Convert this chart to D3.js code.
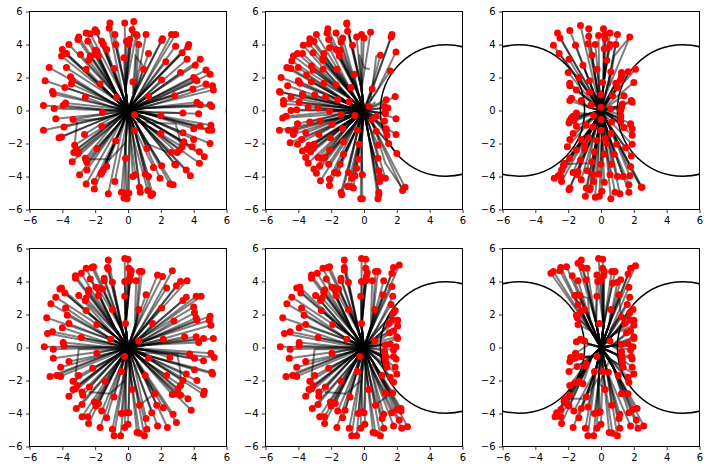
<!DOCTYPE html>
<html><head><meta charset="utf-8">
<script src="https://cdn.jsdelivr.net/npm/d3@7"></script>
<style>html,body{margin:0;padding:0;background:#fff}svg{display:block}</style></head>
<body><script>
const tickValues=[-6,-4,-2,0,2,4,6];
const pointsA=[[-1.1,5.3],[-1.15,5],[-0.2,5.3],[0.35,5.4],[0.25,4.9],[0.5,4.6],[0.55,4.55],[1.1,4.6],[-0.8,4.6],[-2,4.9],[-1.9,4.75],[-2.3,4.65],[-2.55,4.7],[-2.45,4.2],[-3,4.45],[-3.05,4.3],[-3.6,4],[-1.6,4.2],[-1.5,4],[-0.75,4],[-0.1,4.2],[0.1,4.3],[0.05,4],[0.65,4],[-1.3,3.7],[-2,3.65],[-1.9,3.6],[-2.05,3.4],[-2.3,3.3],[-2.9,3.4],[-1.8,3.3],[-2.4,3.05],[-4,3.7],[-3.85,3.45],[-3.75,3.45],[-4.05,3.3],[-0.25,3.2],[1.25,3.45],[2.05,4.25],[2.1,4.35],[2.65,4.6],[2.9,4.6],[2.9,3.9],[3.3,3.5],[3.65,3.85],[3.7,4],[3.6,3.1],[4.4,3.1],[4.1,2.75],[2.3,2.95],[4.75,2.45],[5,2.2],[3.2,2.3],[4,2],[4.1,1.9],[4.2,1.8],[4.75,1.6],[5.15,1.5],[5.2,1.25],[3.95,1.3],[2.05,1.85],[0.95,2.5],[0.3,1.75],[-0.85,2.55],[-2.55,2.5],[-3.75,2.6],[-4.8,2.6],[-5.05,1.8],[-3.5,2.05],[-3.4,1.85],[-3.45,1.6],[-3.85,1.4],[-4.6,1.15],[-4.55,1],[-1.7,1.6],[-2.6,0.8],[-0.7,0.8],[1.25,0.85],[2.85,0.9],[-3.8,0.45],[-3.95,0.3],[-5.15,0.3],[-4.5,0.12],[-1.55,-0.12],[-3.35,-0.55],[-4.4,-0.5],[-3.9,-1],[-5.15,-1.2],[-1.6,-0.95],[-2.65,-1.45],[-4.2,-1.65],[-4.05,-1.6],[-3.25,-2.1],[-3.15,-2.35],[-3.3,-2.55],[-3.05,-2.6],[-3,-2.5],[-2.6,-2.9],[-2.55,-3],[-2.5,-3.15],[-3.4,-3.1],[-1.9,-2.3],[-0.75,-1.85],[-0.15,-2.9],[-1.3,-3.4],[-1.5,-3.6],[-1.6,-3.75],[-1.65,-3.85],[-2.5,-3.6],[-2.95,-3.9],[-2.55,-4.45],[-2.05,-4.3],[-2.05,-4.75],[-0.8,-4.3],[-1.2,-5.05],[-0.4,-4.95],[-0.1,-5],[0.05,-5],[-0.25,-5.3],[-0.05,-5.35],[0.3,-4],[0.45,-3.9],[0.7,-4.65],[0.75,-4.95],[1.05,-3.85],[1.25,-4],[1.2,-4.85],[1.4,-5.15],[1.5,-5.05],[1.95,-4.1],[1.55,-3.45],[2.05,-3.35],[2.55,-4.45],[2.75,-4.5],[2.9,-3.3],[2.85,-3.25],[3.55,-3.6],[3.8,-3.95],[4.35,-3.2],[4.65,-2.8],[4.35,-2.5],[3.9,-2.2],[3.4,-1.9],[3.3,-2.2],[3.15,-2.4],[3,-2.55],[2.65,-2.55],[4,-1.75],[1.15,-2.3],[2,-1.4],[3.35,-1.35],[4,-1.1],[4.4,-0.95],[5.05,-0.9],[4.9,-1.2],[5.1,-1.2],[4.3,-0.2],[3.35,-0.15],[2,-0.3],[0.4,-0.25],[0.4,-1.2],[5,-2],[4.2,0.5],[4.4,0.35],[5,0.35],[5.1,0.25]];
const pointsB=[[-1.05,5.3],[-1.05,5.25],[-1,4.8],[-2.2,4.95],[-2.25,4.7],[-1.7,4.7],[-2.15,4.3],[-2.9,4.6],[-3.3,4.35],[-3.05,4.2],[-3.35,4.05],[-3.7,3.95],[-1.3,4.4],[-1.4,4.15],[-0.7,3.95],[-0.45,4.45],[-0.15,4.6],[0,4.4],[0.4,4.75],[1.7,4.6],[1.65,4.45],[1,3.35],[1.95,3.55],[1.6,2.4],[-0.6,2.2],[0.5,1.3],[-0.8,1.4],[1.35,0.65],[1.9,0.85],[-2.1,3.8],[-1.7,3.7],[-1.45,3.65],[-1.5,3.3],[-3.1,3.5],[-3.75,3.45],[-4.05,3.45],[-4.3,3.3],[-4.4,3],[-2.45,3.45],[-2.5,3.15],[-2.5,3.05],[-4.7,2.6],[-4.45,2.55],[-4,2.6],[-3.2,2.7],[-3.1,2.45],[-3.5,2.15],[-2.5,2.5],[-1.65,2.5],[-5.05,2],[-4,1.8],[-3.9,1.65],[-3.2,1.75],[-4.65,1.5],[-2.45,1.65],[-1.7,1.55],[-5.15,1.15],[-5.1,1.1],[-3.75,1],[-3.75,0.9],[-3,0.95],[-4.45,0.8],[-2.35,0.8],[-1.6,0.65],[-0.9,0.55],[-4.9,0.6],[-4.9,0.4],[-3.95,0.5],[-3.4,0.2],[-2.8,0.15],[-4.45,0],[-4.1,0.05],[-2.1,-0.05],[-1.4,-0.25],[-0.55,-0.3],[0.3,0.25],[-4.75,-0.35],[-4.95,-0.45],[-3.3,-0.7],[-2.65,-0.65],[-4.05,-0.8],[-1.95,-0.85],[-5.15,-1.2],[-4.6,-1.2],[-4.2,-1.2],[-4.3,-1.45],[-3.55,-1.35],[-1.3,-1.1],[-0.4,-1.2],[-2.75,-1.45],[-2.05,-1.65],[-4.5,-1.95],[-4.05,-2.05],[-3.8,-1.75],[-3.05,-2.05],[-3.35,-2.1],[-3.1,-2.3],[-3.75,-2.45],[-3.5,-2.35],[-3.25,-2.5],[-2.1,-2.4],[-1.25,-1.9],[-0.3,-2.05],[-3.55,-2.85],[-3.4,-3.2],[-2.8,-2.85],[-2.6,-2.9],[-2.4,-2.85],[-2.7,-3.35],[-2.15,-3.25],[-3.05,-3.55],[-2.9,-3.8],[-2.65,-4.25],[-2.1,-4.15],[-2.1,-4.55],[-1.8,-3.75],[-1.6,-3.8],[-1.45,-3.25],[-1.25,-2.65],[-0.35,-2.95],[-0.45,-3.5],[-0.95,-3.75],[-0.75,-4.1],[-0.55,-3.95],[-0.1,-3.9],[-1,-4.6],[-0.8,-4.6],[-0.65,-4.7],[-1.4,-4.95],[-1.35,-5.1],[-0.2,-5.35],[-0.1,-5.35],[0.9,-4.95],[0.9,-5.1],[0.85,-5.35],[0.95,-4.3],[0.9,-3.65],[1,-4],[1.3,-4.1],[0.85,-2.9],[0.85,-2.1],[0.75,-1.25],[1.5,-2],[2,-2.6],[1.4,-1.5],[1.95,-1.45],[1.35,-1.1],[1.35,-1.25],[1.25,-0.65],[1.95,-0.5],[1.3,-0.2],[1.45,0.15],[1.25,0.25],[1.3,0],[0.75,-0.35],[0.5,-0.55],[2.35,-4.85],[2.5,-4.65]];
const pointsC=[[-1.25,5.15],[-0.75,4.95],[0.15,4.95],[-1.9,4.85],[-2.65,4.7],[-2.5,4.4],[-0.75,4.5],[-0.15,4.55],[0.25,4.6],[0.55,4.7],[1,4.6],[1.75,4.45],[0.25,4.35],[-2.9,3.95],[-1.55,3.95],[-0.8,4.05],[-0.35,4],[0.55,4],[0.9,4],[0.2,3.75],[0.5,3.85],[-2.55,3.45],[-0.55,3.35],[-1.95,3.1],[0.35,3.05],[-1.1,2.75],[-2,2.3],[-0.25,2.5],[0.6,2.35],[1.25,2.3],[1.65,2.35],[2.1,2.5],[-1.35,2],[-0.7,1.8],[1.25,2.1],[1.2,1.85],[2,1.7],[0.1,1.7],[0.9,1.65],[-1.9,1.65],[-1.9,1.5],[1,1.4],[-1.5,1.25],[-0.7,1.1],[0,0.95],[0.7,0.9],[1.4,0.9],[-1.8,0.75],[-1.9,0.6],[-1.2,0.6],[1.85,0.6],[1.9,0.5],[-0.6,0.35],[1.3,0.4],[1.25,0.2],[0,0.2],[0.6,0.1],[1.2,0],[-1.5,-0.15],[-1.7,-0.35],[-1.8,-0.45],[-0.45,-0.3],[1.2,-0.3],[1.2,-0.4],[-1.9,-0.6],[-1.95,-0.75],[-1.65,-0.6],[0,-0.55],[0.65,-0.7],[1.2,-0.65],[1.8,-0.8],[-1.5,-0.95],[-0.9,-0.9],[-0.5,-1],[1.9,-1.1],[1.4,-1.05],[0,-1.2],[0.6,-1.4],[-1.7,-1.4],[-0.75,-1.65],[1.9,-1.5],[-1.9,-1.75],[-1.2,-1.75],[-0.25,-1.8],[0.25,-1.7],[0.35,-2],[0.95,-2.05],[1.9,-2.05],[-2.05,-2.2],[-1,-2.1],[-1,-2.35],[1.5,-2.25],[-1.5,-2.4],[-0.4,-2.5],[0.2,-2.65],[0.8,-2.65],[1.85,-2.75],[-1.9,-2.9],[-1.25,-3],[-0.55,-3.1],[-2.25,-3.2],[-2.3,-3.35],[0,-3.25],[0.65,-3.25],[1.8,-3.4],[-2.4,-3.6],[-1.7,-3.75],[-1.4,-3.7],[-0.85,-3.65],[-1.45,-3.9],[-2.45,-4],[-2.85,-4.1],[-2.6,-3.95],[-1.2,-4.2],[-2.4,-4.3],[-0.5,-3.9],[-0.15,-3.85],[0.55,-3.9],[1,-4],[1.35,-4],[1.75,-3.95],[-0.45,-4.3],[0.2,-4.35],[1.7,-4.5],[-1.9,-4.7],[-1.95,-4.8],[-0.9,-4.7],[-0.7,-4.8],[-0.65,-4.7],[0.05,-4.9],[0.85,-4.95],[1.15,-5.05],[1.7,-4.95],[-0.95,-5.2],[-0.35,-5.25],[-0.1,-5.2],[0.6,-5.35],[2.45,-4.65],[2.5,-4.65]];
const pointsD=[[-0.2,5.4],[0,5.35],[-1.2,5.3],[-1.25,4.85],[-1.2,4.75],[-2.1,4.9],[-2.2,4.85],[-2.55,4.8],[-2.85,4.5],[-3.2,4.35],[-3.2,4.2],[-2.3,4.15],[-1.45,4.2],[-1.45,4.05],[-0.95,3.95],[0.05,4.8],[0.2,4.65],[0.15,4.4],[0.7,4.6],[0.85,4.6],[0.1,4.2],[-0.2,4],[0.1,4.05],[0.5,4.05],[1.8,4.4],[2.1,4.3],[2.7,4.65],[3.2,4],[2.95,3.75],[3.6,4.05],[2.35,3.6],[1.1,3.2],[-0.2,3.1],[-4.05,3.6],[-4.15,3.55],[-3.85,3.3],[-4.4,3.05],[-3,3.15],[-1.95,3.65],[-1.8,3.6],[-1.55,3.55],[-2.4,3.5],[-2.4,3.35],[-1.8,3.15],[-2.55,3],[-2.6,2.85],[-4.7,2.65],[-3.8,2.4],[-2.55,2.25],[-0.95,2.3],[0.65,2.3],[2.05,2.4],[3.35,2.85],[3.55,3.05],[4.15,3.1],[4.45,3.1],[4,2.45],[4.05,2.1],[4.15,1.8],[4.2,1.65],[5,1.9],[4.95,1.65],[5.05,1.35],[-4.95,1.8],[-3.7,1.95],[-3.6,1.45],[-4,1.2],[-1.9,1.4],[-0.15,1.45],[1.5,1.45],[2.8,1.6],[-4.6,0.95],[-4.9,0.85],[-2.85,0.6],[-1.05,0.5],[0.65,0.4],[2.15,0.5],[3.45,0.65],[4.15,0.65],[4.3,0.3],[4.6,0.55],[5.2,0.55],[-3.95,0.3],[-3.9,0.1],[-5.1,0.05],[-4.55,-0.1],[-4.55,-0.65],[-1.9,-0.35],[-0.2,-0.55],[-3.6,-0.85],[1.25,-0.65],[2.55,-0.6],[3.75,-0.4],[4.05,-0.65],[4.6,-0.8],[5.05,-0.35],[5.25,-0.6],[-4.1,-1.2],[-2.15,-1.25],[4.05,-1.35],[-0.4,-1.45],[3.55,-1.6],[5.1,-1.5],[5.15,-1.6],[-4.75,-1.75],[-4.35,-1.7],[-4.1,-1.75],[-3,-1.7],[1.05,-1.7],[2.35,-1.7],[4.2,-2],[-3.35,-2.05],[-1.4,-2.05],[3.35,-2],[-3.1,-2.3],[-2.35,-2.4],[-3.2,-2.5],[-3.35,-2.55],[0.25,-2.55],[3.2,-2.3],[3.05,-2.5],[-2.8,-2.7],[-2.75,-2.9],[-3.6,-2.95],[-0.85,-3],[1.65,-2.8],[2.7,-2.85],[2.95,-2.8],[3.2,-2.9],[3.65,-3.1],[4.65,-2.65],[4.6,-2.85],[-2.05,-3.3],[-1.8,-3.4],[-1.95,-3.55],[-2.8,-3.45],[-3.15,-3.7],[-1.6,-3.85],[0.7,-3.5],[1.75,-3.5],[2.15,-3.65],[3.85,-3.8],[-0.4,-4],[-0.1,-3.95],[0.05,-3.95],[1.45,-3.95],[-2.8,-4.2],[-2.45,-4.2],[-1.3,-4.25],[1.1,-4.3],[2.75,-4.05],[-2.4,-4.6],[2.95,-4.55],[-1.7,-4.85],[-0.95,-4.95],[0,-4.65],[-0.2,-4.85],[1.15,-4.95],[1.8,-4.75],[2.4,-4.85],[-0.85,-5.35],[-0.45,-5.35],[0.55,-5.15],[0.7,-5.2],[1,-5.35]];
const pointsE=[[-0.15,5.4],[0.1,5.35],[-1.2,5.3],[-1.2,4.85],[-1.2,4.7],[-2.1,4.9],[-2.2,4.85],[-2.5,4.8],[-2.85,4.5],[-3.2,4.4],[-3.2,4.2],[-2.3,4.15],[-1.4,4.2],[-1.4,4.05],[-0.95,3.95],[0.1,4.8],[0.2,4.55],[0.15,4.3],[0.7,4.6],[0.85,4.6],[-0.15,4],[0.1,4.05],[0.5,4.05],[2.15,5],[1.8,4.85],[1.7,4.5],[1.2,4.05],[1.7,3.7],[1.75,3.1],[1.15,3.2],[-0.2,3.1],[-4.1,3.6],[-3.9,3.65],[-3.85,3.3],[-4.4,3.05],[-2.95,3.15],[-1.95,3.65],[-1.8,3.6],[-1.55,3.55],[-2.4,3.5],[-2.45,3.35],[-1.7,3.15],[-2.55,3],[-2.65,2.85],[-4.7,2.65],[-3.8,2.4],[-2.6,2.25],[-0.95,2.3],[0.65,2.3],[1.65,2.6],[1.9,2.25],[1.8,2.1],[-4.95,1.8],[-3.65,1.95],[-3.55,1.4],[-3.95,1.2],[-1.9,1.4],[-0.15,1.45],[1.5,1.45],[1.75,1.7],[2.05,1.65],[2.05,1.3],[-4.5,0.95],[-4.85,0.85],[-2.8,0.6],[-1.05,0.5],[0.65,0.4],[1.55,0.9],[1.8,1],[1.3,0.15],[2,0.65],[2.05,0.55],[-3.95,0.3],[-3.95,0.1],[-5.1,0.05],[-4.5,-0.1],[-4.55,-0.65],[-1.95,-0.35],[-0.25,-0.55],[-3.55,-0.85],[1.6,0.2],[1.95,0.05],[1.8,-0.15],[1.25,-0.25],[1.3,-0.5],[1.3,-0.7],[1.8,-0.55],[1.95,-0.7],[1.35,-0.95],[1.4,-1.2],[1.9,-1.2],[2,-1.6],[-4.1,-1.2],[-2.15,-1.25],[-0.4,-1.45],[-4.75,-1.75],[-4.35,-1.7],[-4.1,-1.75],[-3,-1.7],[1.1,-1.7],[1.6,-1.8],[1.8,-2.1],[-3.3,-2.05],[-1.4,-2.05],[-3.1,-2.3],[-2.35,-2.4],[-3.2,-2.5],[-3.35,-2.55],[0.3,-2.55],[1.3,-2.75],[1.75,-2.75],[-2.75,-2.7],[-2.75,-2.95],[-3.55,-2.95],[-0.85,-3],[-2.05,-3.3],[-1.75,-3.4],[-2,-3.55],[-2.8,-3.45],[-3.15,-3.7],[-1.6,-3.85],[-1.15,-3.8],[0.7,-3.5],[2,-3.75],[2.25,-3.7],[2.25,-3.85],[1.7,-3.95],[-0.35,-4],[-0.1,-3.9],[0,-3.95],[1.2,-4.05],[-2.7,-4.2],[-2.4,-4.2],[-1.3,-4.25],[1.1,-4.3],[-2.4,-4.6],[2.15,-4.4],[-1.65,-4.85],[-0.9,-4.9],[0.05,-4.65],[-0.2,-4.9],[1.2,-4.9],[1.8,-4.75],[2.3,-4.9],[2.65,-4.8],[-0.75,-5.35],[-0.45,-5.35],[0.55,-5.15],[0.7,-5.2],[1,-5.35]];
const pointsF=[[-0.15,5.4],[0.1,5.35],[-1.2,5.3],[-1.4,5.1],[-1.15,4.85],[-0.85,4.8],[-2.1,4.9],[-2.45,4.85],[-2.5,4.65],[-2.9,4.6],[-3.05,4.5],[-1.75,4.35],[-1.4,4.05],[-0.9,4.1],[0.1,4.8],[0.2,4.6],[-0.25,4.4],[0.65,4.6],[0.85,4.6],[0.15,4.35],[-0.2,4],[0,4.1],[0.7,3.9],[1.2,4.1],[2.1,4.95],[1.8,4.8],[1.65,4.45],[1,3.95],[1.7,3.65],[1.75,3.05],[1.1,3.2],[-0.25,3.1],[-1.6,3.15],[-1.4,3.2],[-1.3,3.15],[-1.4,2.6],[0.6,2.3],[1.6,2.6],[1.95,2.3],[1.75,2.1],[-1.2,2.2],[-1,2.3],[-1.5,1.95],[-1.45,1.8],[-0.1,1.45],[1.25,1.85],[1.45,1.45],[1.75,1.7],[2,1.65],[2,1.35],[-1.4,1.4],[1.55,0.9],[1.8,1],[2,0.65],[2,0.55],[0.55,0.4],[-1.25,0.5],[-1.5,0.35],[-1,0.4],[1.25,0.2],[1.65,0.25],[1.95,0.05],[1.8,-0.15],[1.25,-0.25],[-1.55,-0.35],[-0.25,-0.55],[-1.85,-0.6],[-1.9,-0.85],[-1.6,-0.65],[-1.2,-0.55],[1.25,-0.5],[1.3,-0.7],[1.85,-0.55],[1.9,-0.7],[-0.9,-1],[-0.95,-1.1],[1.3,-0.95],[1.35,-1.2],[1.9,-1.2],[2,-1.6],[-1.95,-1.45],[-0.4,-1.45],[0.1,-1.45],[0.45,-1.5],[-1.45,-1.15],[1.05,-1.7],[1.65,-1.8],[1.7,-2.1],[-1.9,-2.3],[-1.6,-2.15],[-1.35,-2.05],[-1.1,-2.2],[0.25,-2.55],[1.25,-2.8],[1.65,-2.8],[-1.9,-2.9],[-0.9,-3],[-2.2,-3.1],[-2.25,-3.25],[-2.1,-3.4],[-1.95,-3.55],[-0.8,-3.6],[-1.2,-3.7],[0.65,-3.5],[1.95,-3.75],[2.2,-3.7],[1.7,-3.95],[-1.65,-3.85],[-2.45,-3.75],[-2.7,-3.95],[-2.8,-4.2],[-2.45,-4.2],[-1.35,-4.25],[-0.4,-4],[-0.15,-3.95],[-0.05,-3.9],[1.15,-4.05],[1.1,-4.3],[-2.4,-4.6],[2.15,-4.4],[-1.7,-4.85],[-0.95,-4.9],[0,-4.65],[-0.25,-4.9],[1.15,-4.9],[1.8,-4.75],[2.25,-4.9],[2.6,-4.75],[-0.8,-5.35],[-0.45,-5.35],[0.5,-5.15],[0.7,-5.2],[1,-5.35]];
const hubsWide=[[-0.15,1.3],[-0.3,0.9],[-0.45,1.25],[-0.55,0.75],[-0.75,1.1],[-0.8,0.7],[-1.1,0.95],[-1,0.5],[-1.3,0.55],[-1.1,0.25],[-1.4,0.2],[-0.9,0],[-1.3,-0.2],[-0.9,-0.3],[-1.2,-0.55],[-0.7,-0.5],[-0.9,-0.85],[-0.55,-0.8],[-0.7,-1.2],[-0.35,-0.9],[-0.45,-1.5],[-0.15,-1.1],[-0.15,-2],[0.1,-1.2],[0.3,-1.6],[0.35,-1],[0.6,-1.6],[0.55,-0.9],[0.9,-1.3],[0.8,-0.75],[1.2,-0.95],[0.9,-0.45],[1.4,-0.55],[1,-0.15],[1.5,-0.1],[1.1,0.15],[1.5,0.35],[0.9,0.35],[1.2,0.6],[0.7,0.5],[1,0.85],[0.55,0.7],[0.8,1.2],[0.4,1],[0.5,1.5]];
const hubsNarrow=[[-0.1,1.3],[-0.25,0.9],[-0.3,1.7],[-0.45,1.1],[-0.55,1.7],[-0.5,0.7],[-0.7,1.3],[-0.7,0.6],[-0.85,0.9],[-0.75,0.2],[-0.9,0.05],[-0.7,-0.2],[-0.95,-0.4],[-0.6,-0.5],[-0.85,-0.9],[-0.5,-0.9],[-0.7,-1.4],[-0.3,-1],[-0.45,-1.7],[-0.15,-1.2],[-0.15,-2],[0.05,-1.5],[0.25,-1.8],[0.3,-1.1],[0.5,-1.6],[0.5,-0.9],[0.75,-1.4],[0.7,-0.8],[0.9,-0.6],[0.7,-0.3],[1,-0.2],[0.75,0.1],[1,0.25],[0.7,0.45],[0.85,0.75],[0.5,0.7],[0.7,1.3],[0.35,1.1],[0.45,1.7],[0.15,1.6]];
const hubsTall=[[-0.95,2.2],[-0.75,1.9],[-0.6,1],[-0.7,0.2],[-0.55,-0.55],[-0.85,-0.9],[-0.3,-1.3],[-0.15,-2.1],[0.1,-1.2],[0.35,-1.4],[0.55,-0.7],[0.75,-1.2],[0.9,-0.4],[0.65,0.1],[1,0.2],[0.4,0.6],[0.75,0.8],[0.5,1.4],[0.15,1.3],[-0.3,1.5]];
const bendsA=[[[-0.2,-0.1],[-1.5,-0.5],[-3.1,-0.6],[-3.25,-2.1]],[[-0.1,-1.9],[-1.1,-2.95],[-2.6,-2.95]],[[0.45,-0.7],[2.9,-0.8],[3.1,-1.5],[3.2,-2.3]],[[0.3,1],[0.45,3.3],[0.85,2.8],[0.95,2.5]],[[0.4,-0.7],[1.1,-2],[2.6,-2.6]]];
const bendsB=[[[0.4,0.6],[0.75,3.3],[1.0,3.35]],[[-0.1,1.2],[-0.3,3.4],[0,2.6],[0.35,2.5]],[[0.7,-1.2],[1.3,-3.2],[2.4,-4.8]]];
const bendsC=[[[0.5,1.5],[0.8,3.3],[1.75,4.45]],[[-0.8,-3.2],[-2.35,-3.25]],[[0.6,-1],[1.5,-3.1],[2.45,-4.65]]];
const bendsD=[[[-0.2,-0.1],[-3,-0.1],[-3.2,-1.7],[-3.1,-2.3]],[[-0.2,-2],[-1.1,-2.8],[-2.4,-2.7]],[[0.4,-0.3],[3,-0.4],[3.2,-1.5],[3.2,-2.3]],[[0.5,-1],[1.6,-2.8],[0.7,-3.5]]];
const bendsE=[[[-0.2,-0.1],[-3,-0.1],[-3.2,-1.7],[-3.1,-2.3]],[[-0.2,-2],[-1.1,-2.8],[-2.4,-2.7]],[[0.5,-1],[1.6,-2.8],[0.7,-3.5]]];
const bendsF=[[[-0.2,-1.9],[-1,-3.1],[-2.25,-3.1]],[[-0.7,1.7],[-0.8,3],[-1.5,3.2]],[[0.5,-0.8],[-0.1,-2.2],[0.25,-2.55]],[[0.5,1],[1.2,2],[1.1,3.2]]];
const circlesNone=[[10,0]],circlesRight=[[5,0]],circlesBoth=[[-5,0],[5,0]];
const circleRadius=4;
const panels=[
 {pts:pointsA,hubs:hubsWide,bends:bendsA,circles:circlesNone,l:29.5,t:11.5},
 {pts:pointsB,hubs:hubsWide,bends:bendsB,circles:circlesRight,l:265.5,t:11.5},
 {pts:pointsC,hubs:hubsNarrow,bends:bendsC,circles:circlesBoth,l:502.5,t:11.5},
 {pts:pointsD,hubs:hubsWide,bends:bendsD,circles:circlesNone,l:29.5,t:248.5},
 {pts:pointsE,hubs:hubsWide,bends:bendsE,circles:circlesRight,l:265.5,t:248.5},
 {pts:pointsF,hubs:hubsTall,bends:bendsF,circles:circlesBoth,l:502.5,t:248.5}];
const W=197,H=198;
const svg=d3.select("body").append("svg").attr("width",709).attr("height",470);
svg.append("rect").attr("width",709).attr("height",470).attr("fill","#fff");
const dist=(a,b)=>Math.hypot(a[0]-b[0],a[1]-b[1]);
panels.forEach((p,i)=>{
 const x=d3.scaleLinear().domain([-6,6]).range([0,W]);
 const y=d3.scaleLinear().domain([-6,6]).range([H,0]);
 const g=svg.append("g").attr("transform",`translate(${p.l},${p.t})`);
 const id="clip"+i;
 g.append("clipPath").attr("id",id).append("rect").attr("width",W).attr("height",H);
 const plot=g.append("g").attr("clip-path",`url(#${id})`);
 const line=d3.line().x(d=>x(d[0])).y(d=>y(d[1]));
 const routes=p.pts.map(e=>[[0,0],d3.least(p.hubs,c=>dist([0,0],c)+dist(c,e)),e]).concat(p.bends);
 plot.selectAll("path.traj").data(routes).join("path").attr("class","traj")
  .attr("d",line).attr("fill","none").attr("stroke","#000").attr("stroke-opacity",0.5).attr("stroke-width",2);
 plot.selectAll("circle.obs").data(p.circles).join("circle").attr("class","obs")
  .attr("cx",d=>x(d[0])).attr("cy",d=>y(d[1]))
  .attr("r",x(circleRadius)-x(0)).attr("fill","none").attr("stroke","#000").attr("stroke-width",1.5);
 plot.selectAll("circle.pt").data(p.pts).join("circle").attr("class","pt")
  .attr("cx",d=>x(d[0])).attr("cy",d=>y(d[1])).attr("r",3.5).attr("fill","#f00");
 const fmt=d=>String(d).replace("-","\u2212");
 const ax=g.append("g").attr("transform",`translate(0,${H})`).call(d3.axisBottom(x).tickValues(tickValues).tickSize(3.5).tickPadding(3.5).tickFormat(fmt));
 const ay=g.append("g").call(d3.axisLeft(y).tickValues(tickValues).tickSize(3.5).tickPadding(3.5).tickFormat(fmt));
 [ax,ay].forEach(a=>{a.selectAll("text").attr("font-family","DejaVu Sans").attr("font-size",10).attr("fill","#000");
  a.selectAll("line").attr("stroke","#000").attr("stroke-width",0.8);
  a.select(".domain").remove();});
 g.append("rect").attr("width",W).attr("height",H).attr("fill","none").attr("stroke","#000").attr("stroke-width",1);
});
</script></body></html>
